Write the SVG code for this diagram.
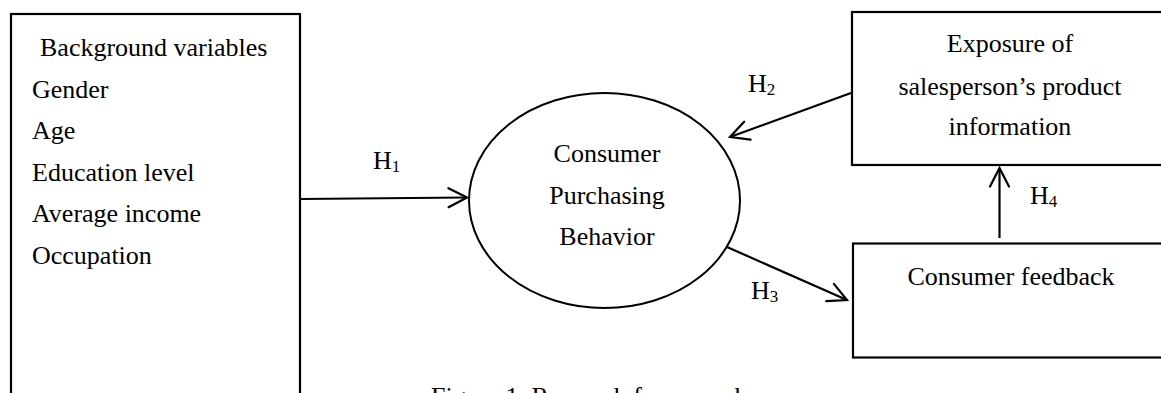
<svg xmlns="http://www.w3.org/2000/svg" width="1161" height="393" viewBox="0 0 1161 393">
<style>
text{font-family:"Liberation Serif","Times New Roman",serif;font-size:26px;fill:#000}
.box{fill:#fff;stroke:#000;stroke-width:2.2}
.ell{fill:#fff;stroke:#000;stroke-width:2}
.c{text-anchor:middle}
.con{stroke:#000;stroke-width:2.2;fill:none;marker-end:url(#arr)}
.sub{font-size:17px}
</style>
<defs>
<marker id="arr" markerUnits="userSpaceOnUse" viewBox="-22 -12 24 24" refX="0" refY="0" markerWidth="24" markerHeight="24" orient="auto">
<path d="M-18.5,-9.5 L0,0 L-18.5,9.5" fill="none" stroke="#000" stroke-width="2.2" stroke-linecap="round" stroke-linejoin="miter"/>
</marker>
</defs>
<rect width="1161" height="393" fill="#fff"/>
<g id="background">
<rect class="box" x="11" y="14" width="289" height="400"/>
<text x="40" y="56">Background variables</text>
<text x="32" y="97.5">Gender</text>
<text x="32" y="139">Age</text>
<text x="32" y="180.5">Education level</text>
<text x="32" y="222">Average income</text>
<text x="32" y="263.5">Occupation</text>
</g>
<g id="behavior">
<ellipse class="ell" cx="604.5" cy="200.5" rx="135.5" ry="107.5"/>
<text class="c" x="607" y="162">Consumer</text>
<text class="c" x="607" y="204">Purchasing</text>
<text class="c" x="607" y="245">Behavior</text>
</g>
<g id="exposure">
<rect class="box" x="852" y="12" width="330" height="153"/>
<text class="c" x="1010" y="52">Exposure of</text>
<text class="c" x="1010" y="94.5">salesperson’s product</text>
<text class="c" x="1010" y="135">information</text>
</g>
<g id="feedback">
<rect class="box" x="853" y="243.5" width="330" height="114"/>
<text class="c" x="1011" y="285">Consumer feedback</text>
</g>
<g id="connectors">
<line class="con" x1="300" y1="199" x2="467" y2="197.5"/>
<line class="con" x1="851" y1="93" x2="730" y2="137"/>
<line class="con" x1="727" y1="247" x2="847" y2="300"/>
<line class="con" x1="999.5" y1="238" x2="999.5" y2="168"/>
<text x="373" y="169">H<tspan class="sub" dy="3">1</tspan></text>
<text x="748" y="92">H<tspan class="sub" dy="3">2</tspan></text>
<text x="751" y="299">H<tspan class="sub" dy="3">3</tspan></text>
<text x="1030" y="204">H<tspan class="sub" dy="3">4</tspan></text>
</g>
<text id="caption" x="431" y="405">Figure 1. Research framework</text>
</svg>
